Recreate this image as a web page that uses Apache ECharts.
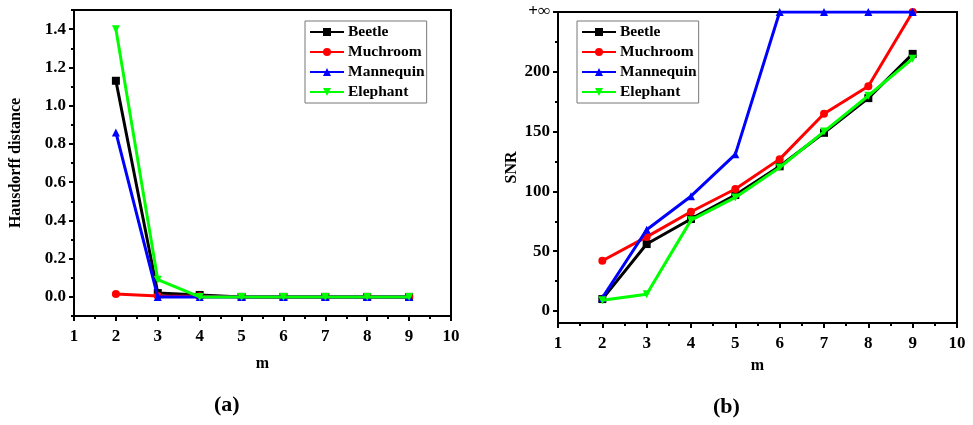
<!DOCTYPE html>
<html>
<head>
<meta charset="utf-8">
<script src="https://cdn.jsdelivr.net/npm/echarts@6/dist/echarts.min.js"></script>
<style>
  html, body { margin: 0; padding: 0; background: #fff; }
  #main { width: 973px; height: 425px; }
</style>
</head>
<body>
<div id="main"></div>
<script>
// m values (x axis)
var mValues = [2, 3, 4, 5, 6, 7, 8, 9];
var seriesNames = ["Beetle", "Muchroom", "Mannequin", "Elephant"];
var colors = ["#000000", "#ff0000", "#0000ff", "#00ff00"];
var symbols = ["rect", "circle", "triangle", "triangle"];
var rotates = [0, 0, 0, 180];

// (a) Hausdorff distance
var hdBeetle    = [1.13, 0.02, 0.01, 0, 0, 0, 0, 0];
var hdMuchroom  = [0.015, 0.005, 0.003, 0, 0, 0, 0, 0];
var hdMannequin = [0.86, 0, 0, 0, 0, 0, 0, 0];
var hdElephant  = [1.40, 0.09, 0, 0, 0, 0, 0, 0];
var hdTicks = [0, 0.2, 0.4, 0.6, 0.8, 1.0, 1.2, 1.4];
var hdMinor = [-0.1, 0.1, 0.3, 0.5, 0.7, 0.9, 1.1, 1.3, 1.5];

// (b) SNR, +inf drawn at the top of the axis (250)
var INF = 250;
var snrBeetle    = [10, 56, 77, 97, 121, 149, 178, 215];
var snrMuchroom  = [42, 62, 83, 102, 127, 165, 188, INF];
var snrMannequin = [11, 68, 96, 131, INF, INF, INF, INF];
var snrElephant  = [9, 14, 76, 95, 120, 150, 180, 211];
var snrTicks = [0, 50, 100, 150, 200, 250];
var snrMinor = [25, 75, 125, 175, 225];

var font = "Liberation Serif";
var chart = echarts.init(document.getElementById("main"));

function pairs(vals) {
   return vals.map(function (v, i) { return [mValues[i], v]; });
}

function xAxisFor(grid, gap) {
   return {
      gridIndex: grid,
      type: "value",
      position: "bottom",
      min: 1, max: 10, interval: 1,
      name: "m",
      nameLocation: "middle",
      nameGap: gap,
      nameTextStyle: {fontFamily: font, fontWeight: "bold", fontSize: 16, color: "#000"},
      axisLine: {onZero: false, lineStyle: {color: "#000", width: 2}},
      axisTick: {length: 5, lineStyle: {color: "#000", width: 2}},
      minorTick: {show: true, splitNumber: 2, length: 3, lineStyle: {color: "#000", width: 2}},
      splitLine: {show: false},
      axisLabel: {fontFamily: font, fontWeight: "bold", fontSize: 17, color: "#000", margin: 12}
   };
}

function yMinor(grid, min, max, vals) {
   return {
      gridIndex: grid,
      type: "value",
      position: "left",
      min: min, max: max,
      axisLine: {show: false, onZero: false},
      axisTick: {show: true, length: 3, customValues: vals, lineStyle: {color: "#000", width: 2}},
      axisLabel: {show: false},
      splitLine: {show: false}
   };
}

var hdData = [hdBeetle, hdMuchroom, hdMannequin, hdElephant];
var snrData = [snrBeetle, snrMuchroom, snrMannequin, snrElephant];
var series = [];
[hdData, snrData].forEach(function (set, g) {
   set.forEach(function (vals, i) {
      series.push({
         name: seriesNames[i],
         type: "line",
         xAxisIndex: g,
         yAxisIndex: g * 2,
         data: pairs(vals),
         symbol: symbols[i],
         symbolRotate: rotates[i],
         symbolSize: 8,
         lineStyle: {color: colors[i], width: 3},
         itemStyle: {color: colors[i]},
         z: 3 + i
      });
   });
});

function legendAt(left) {
   return {
      data: seriesNames,
      orient: "vertical",
      left: left,
      top: 21,
      itemWidth: 34,
      itemHeight: 10,
      itemGap: 4,
      padding: [3, 2, 3, 4],
      borderColor: "#777",
      borderWidth: 1,
      textStyle: {fontFamily: font, fontWeight: "bold", fontSize: 15.5, color: "#000", padding: [0, 0, 0, -1]}
   };
}

var option = {
   animation: false,
   backgroundColor: "#fff",
   grid: [
      {left: 74, top: 10, width: 377, height: 306, show: true, borderColor: "#000", borderWidth: 2},
      {left: 558, top: 12, width: 399, height: 311, show: true, borderColor: "#000", borderWidth: 2}
   ],
   legend: [legendAt(305), legendAt(577)],
   xAxis: [xAxisFor(0, 40), xAxisFor(1, 35)],
   yAxis: [
      {
         gridIndex: 0,
         type: "value",
         position: "left",
         min: -0.1, max: 1.5,
         name: "Hausdorff distance",
         nameLocation: "middle",
         nameGap: 50,
         nameTextStyle: {fontFamily: font, fontWeight: "bold", fontSize: 16, color: "#000"},
         axisLine: {show: true, onZero: false, lineStyle: {color: "#000", width: 2}},
         axisTick: {show: true, length: 5, customValues: hdTicks, lineStyle: {color: "#000", width: 2}},
         axisLabel: {
            customValues: hdTicks,
            fontFamily: font, fontWeight: "bold", fontSize: 17, color: "#000", margin: 8,
            formatter: function (v) { return v.toFixed(1); }
         },
         splitLine: {show: false}
      },
      yMinor(0, -0.1, 1.5, hdMinor),
      {
         gridIndex: 1,
         type: "value",
         position: "left",
         min: -10, max: 250,
         name: "SNR",
         nameLocation: "middle",
         nameGap: 38,
         nameTextStyle: {fontFamily: font, fontWeight: "bold", fontSize: 16, color: "#000"},
         axisLine: {show: true, onZero: false, lineStyle: {color: "#000", width: 2}},
         axisTick: {show: true, length: 5, customValues: snrTicks, lineStyle: {color: "#000", width: 2}},
         axisLabel: {
            customValues: snrTicks,
            fontFamily: font, fontWeight: "bold", fontSize: 17, color: "#000", margin: 8,
            formatter: function (v) { return v === INF ? "+\u221e" : String(v); }
         },
         splitLine: {show: false}
      },
      yMinor(1, -10, 250, snrMinor)
   ],
   graphic: [
      {type: "text", left: 214, top: 394, style: {text: "(a)", fontFamily: font, fontWeight: "bold", fontSize: 22, fill: "#000"}},
      {type: "text", left: 713, top: 396, style: {text: "(b)", fontFamily: font, fontWeight: "bold", fontSize: 22, fill: "#000"}}
   ],
   series: series
};

chart.setOption(option);
</script>
</body>
</html>
